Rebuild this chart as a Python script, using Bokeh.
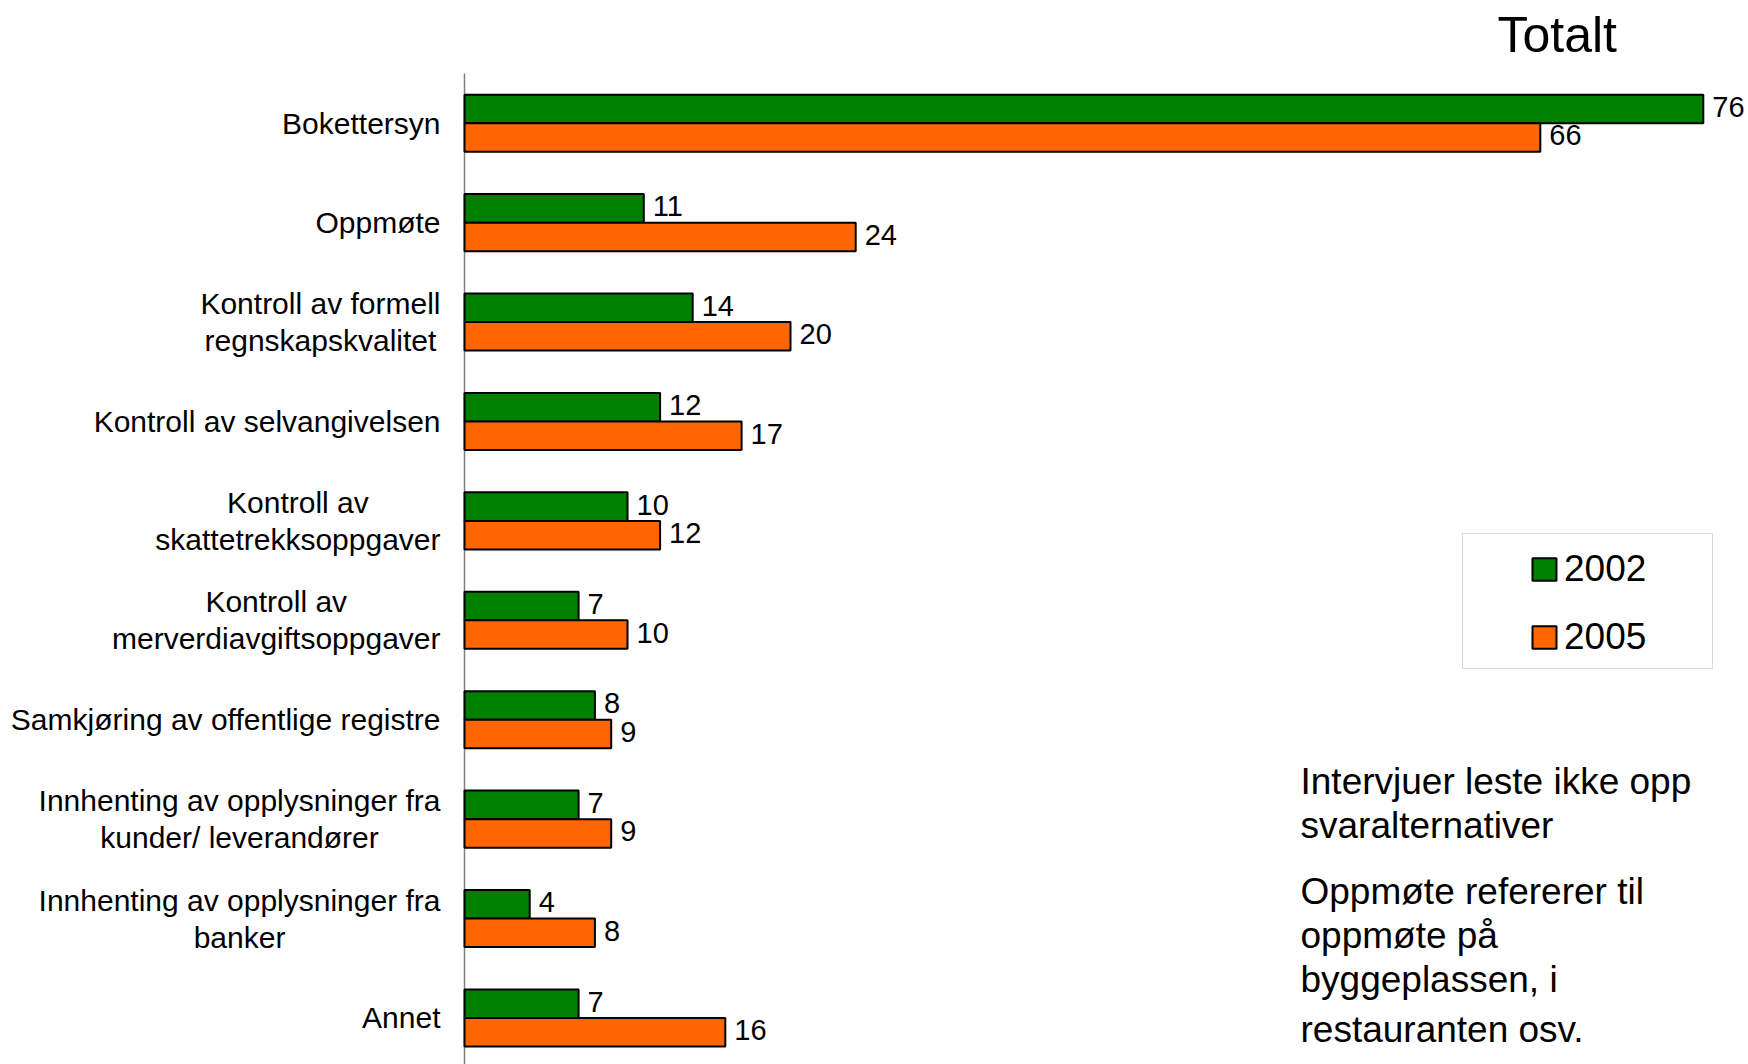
from bokeh.plotting import figure
from bokeh.models import Range1d, ColumnDataSource, Label, Legend, LegendItem, BoxAnnotation
from bokeh.embed import file_html
from bokeh.resources import INLINE
from bokeh.core.properties import value

# ---------------- data ----------------
categories = [
    "Bokettersyn",
    "Oppmøte",
    "Kontroll av formell\nregnskapskvalitet",
    "Kontroll av selvangivelsen",
    "Kontroll av\nskattetrekksoppgaver",
    "Kontroll av\nmerverdiavgiftsoppgaver",
    "Samkjøring av offentlige registre",
    "Innhenting av opplysninger fra\nkunder/ leverandører",
    "Innhenting av opplysninger fra\nbanker",
    "Annet",
]
values_2002 = [76, 11, 14, 12, 10, 7, 8, 7, 4, 7]
values_2005 = [66, 24, 20, 17, 12, 10, 9, 9, 8, 16]
series = ["2002", "2005"]
colors = ["#008000", "#FF6600"]
title_text = "Totalt"
note_1 = "Intervjuer leste ikke opp\nsvaralternativer"
note_2 = "Oppmøte refererer til\noppmøte på\nbyggeplassen, i"
note_3 = "restauranten osv."

# ---------------- layout ----------------
FONT = "Liberation Sans"
W, H = 1748, 1064
axis_px = 464          # pixel position of the value axis (x = 0)
cat_top_px = 73        # pixel position of the top of the first category band
px_per_unit = 16.3
step_px = 99.42
x_start = -axis_px / px_per_unit
x_end = (W - axis_px) / px_per_unit
y_top = -0.5 - cat_top_px / step_px
y_bottom = -0.5 + (H - cat_top_px) / step_px


def px2x(px):
    return (px - axis_px) / px_per_unit


def px2y(py):
    return -0.5 + (py - cat_top_px) / step_px


bar_h = 0.287
pos = list(range(len(categories)))

src = ColumnDataSource(dict(
    y1=[i - bar_h / 2 for i in pos],
    y2=[i + bar_h / 2 for i in pos],
    v1=values_2002,
    v2=values_2005,
    t1=[str(v) for v in values_2002],
    t2=[str(v) for v in values_2005],
))

p = figure(width=W, height=H, x_range=Range1d(x_start, x_end), y_range=Range1d(y_bottom, y_top),
           output_backend="svg", toolbar_location=None, x_axis_location=None, y_axis_location=None,
           min_border=0)
p.outline_line_color = None
p.xgrid.visible = False
p.ygrid.visible = False
p.background_fill_color = "white"
p.border_fill_color = "white"

# value axis line (spans the category bands)
p.segment(x0=[0], y0=[-0.5], x1=[0], y1=[y_bottom], line_color="#808080", line_width=1.5)

r1 = p.hbar(y="y1", right="v1", left=0, height=bar_h, source=src,
            fill_color=colors[0], line_color="black", line_width=2)
r2 = p.hbar(y="y2", right="v2", left=0, height=bar_h, source=src,
            fill_color=colors[1], line_color="black", line_width=2)

for xcol, ycol, tcol in (("v1", "y1", "t1"), ("v2", "y2", "t2")):
    p.text(x=xcol, y=ycol, text=tcol, source=src, x_offset=9, y_offset=-2,
           text_baseline="middle", text_align="left", text_color="black",
           text_font=value(FONT), text_font_size="29px")

# category labels (right aligned block, centered lines)
for i, cat in zip(pos, categories):
    p.add_layout(Label(x=0, y=i, x_offset=-24, text=cat, anchor="center_right",
                       text_align="center", text_baseline="middle",
                       text_font=FONT, text_font_size="30px", text_color="black",
                       text_line_height=1.12))

# title
p.add_layout(Label(x=px2x(1497), y=px2y(34), text=title_text, text_align="left",
                   text_baseline="alphabetic", text_font=FONT, text_font_size="50px",
                   text_color="black"))

# legend
legend = Legend(items=[LegendItem(label=series[0], renderers=[r1]),
                       LegendItem(label=series[1], renderers=[r2])],
                location=(1529, 406), orientation="vertical",
                border_line_color=None, background_fill_alpha=0, padding=0, margin=0,
                spacing=26, glyph_width=30, glyph_height=28, label_height=28,
                label_standoff=5, label_text_font=FONT, label_text_font_size="37px",
                label_text_color="black")
p.add_layout(legend)
p.add_layout(BoxAnnotation(left=px2x(1462), right=px2x(1712), top=px2y(533), bottom=px2y(668),
                           fill_color=None, line_color="#808080", line_width=1))

# notes
for txt, top_px in ((note_1, 760), (note_2, 870), (note_3, 1008)):
    p.add_layout(Label(x=px2x(1300), y=px2y(top_px), text=txt, anchor="top_left",
                       text_align="left", text_baseline="top", text_font=FONT,
                       text_font_size="37px", text_color="black", text_line_height=1.076))

open("out.html", "w").write(file_html(p, INLINE))
